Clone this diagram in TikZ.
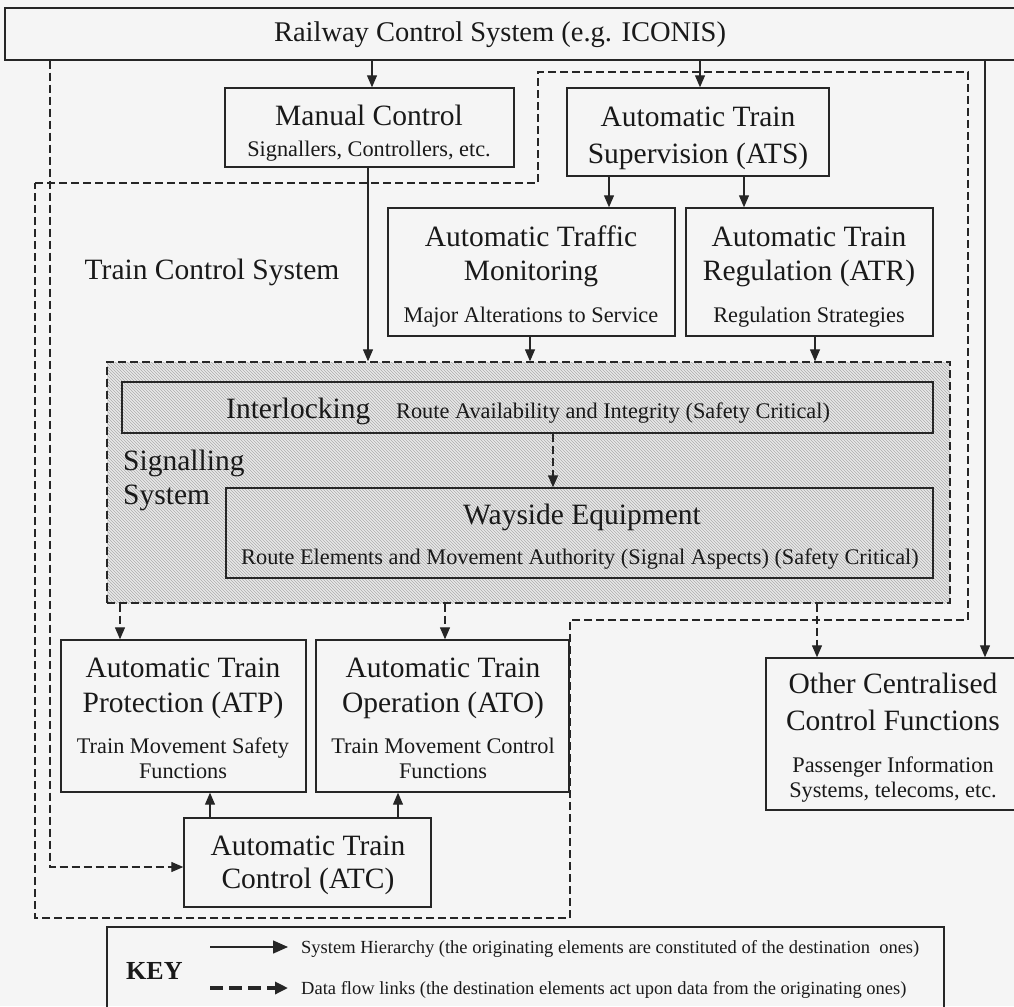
\documentclass[tikz,border=0pt]{standalone}
\usepackage{fontspec}
\setmainfont{Liberation Serif}
\usetikzlibrary{arrows.meta,patterns}
\begin{document}
\begin{tikzpicture}[x=1pt,y=-1pt,
  box/.style={draw=black!85, line width=1.4pt, inner sep=0pt, rectangle},
  big/.style={font=\fontsize{29.5}{34}\selectfont, inner sep=0pt, anchor=base, text=black!90},
  small/.style={font=\fontsize{22.3}{26}\selectfont, inner sep=0pt, anchor=base, text=black!90},
  keytxt/.style={font=\fontsize{18.5}{22}\selectfont, inner sep=0pt, anchor=base west, text=black!90},
  hier/.style={draw=black!85, line width=1.2pt, -{Triangle[length=12pt,width=10pt]}},
  flow/.style={draw=black!85, line width=1.3pt, dash pattern=on 8pt off 4pt, -{Triangle[length=12pt,width=10pt]}},
  bound/.style={draw=black!85, line width=1.3pt, dash pattern=on 8pt off 4pt},
]
\clip (0,0) rectangle (1014,1006);
\fill[black!4] (0,0) rectangle (1014,1006);

% Train Control System boundary
\draw[bound] (35,183) -- (538,183) -- (538,72) -- (968,72) -- (968,620) -- (570,620) -- (570,918) -- (35,918) -- cycle;

% Signalling region
\node[box, dash pattern=on 8pt off 4pt, line width=1.3pt,
  preaction={fill=black!9}, preaction={pattern=north west lines, pattern color=black!32},
  minimum width=843pt, minimum height=241pt] (sig) at (528.5,482.5) {};

% boxes
\node[box, minimum width=1015pt, minimum height=52pt] (rail) at (512.5,34) {};
\node[box, minimum width=289pt, minimum height=79pt] (manual) at (369.5,127.5) {};
\node[box, minimum width=262pt, minimum height=88pt] (ats) at (698,132) {};
\node[box, minimum width=287pt, minimum height=128pt] (atm) at (531.5,272) {};
\node[box, minimum width=247pt, minimum height=128pt] (atr) at (809.5,272) {};
\node[box, minimum width=811pt, minimum height=51pt] (il) at (527.5,407.5) {};
\node[box, minimum width=707pt, minimum height=90pt] (way) at (579.5,533) {};
\node[box, minimum width=245pt, minimum height=152pt] (atp) at (183.5,716) {};
\node[box, minimum width=253pt, minimum height=152pt] (ato) at (442.5,716) {};
\node[box, minimum width=254pt, minimum height=152pt] (other) at (893,734) {};
\node[box, minimum width=247pt, minimum height=89pt] (atc) at (307.5,862.5) {};
\node[box, minimum width=837pt, minimum height=100pt] (key) at (525.5,977) {};

% texts
\node[big, font=\fontsize{28.5}{34}\selectfont] (trail) at (500,42) {Railway Control System (e.g. ICONIS)};
\node[big] (tman1) at (369,126) {Manual Control};
\node[small] (tman2) at (369,156) {Signallers, Controllers, etc.};
\node[big] (tats1) at (698,127) {Automatic Train};
\node[big] (tats2) at (698,163) {Supervision (ATS)};
\node[big] (tatm1) at (531,246) {Automatic Traffic};
\node[big] (tatm2) at (531,280) {Monitoring};
\node[small] (tatm3) at (531,322) {Major Alterations to Service};
\node[big] (tatr1) at (809,246) {Automatic Train};
\node[big] (tatr2) at (809,280) {Regulation (ATR)};
\node[small] (tatr3) at (809,322) {Regulation Strategies};
\node[big] (ttcs) at (212,279) {Train Control System};
\node[big, anchor=base west] (til1) at (226,418) {Interlocking};
\node[small, anchor=base west] (til2) at (396,418) {Route Availability and Integrity (Safety Critical)};
\node[big, anchor=base west] (tsig1) at (123,470) {Signalling};
\node[big, anchor=base west] (tsig2) at (123,504) {System};
\node[big] (tway1) at (582,524) {Wayside Equipment};
\node[small] (tway2) at (580,564) {Route Elements and Movement Authority (Signal Aspects) (Safety Critical)};
\node[big] (tatp1) at (183,677) {Automatic Train};
\node[big] (tatp2) at (183,712) {Protection (ATP)};
\node[small] (tatp3) at (183,753) {Train Movement Safety};
\node[small] (tatp4) at (183,778) {Functions};
\node[big] (tato1) at (443,677) {Automatic Train};
\node[big] (tato2) at (443,712) {Operation (ATO)};
\node[small] (tato3) at (443,753) {Train Movement Control};
\node[small] (tato4) at (443,778) {Functions};
\node[big] (toth1) at (893,693) {Other Centralised};
\node[big] (toth2) at (893,730) {Control Functions};
\node[small] (toth3) at (893,772) {Passenger Information};
\node[small] (toth4) at (893,797) {Systems, telecoms, etc.};
\node[big] (tatc1) at (308,855) {Automatic Train};
\node[big] (tatc2) at (308,888) {Control (ATC)};
\node[font=\fontsize{26}{30}\selectfont\bfseries, inner sep=0pt, anchor=base west, text=black!90] (tkey) at (126,979) {KEY};
\node[keytxt] (tk1) at (301,953) {System Hierarchy (the originating elements are constituted of the destination~ ones)};
\node[keytxt] (tk2) at (301,994) {Data flow links (the destination elements act upon data from the originating ones)};

% x positions for connectors
\coordinate (x372) at (372,0);
\coordinate (x700) at (700,0);
\coordinate (x609) at (609,0);
\coordinate (x744) at (744,0);
\coordinate (x368) at (368,0);
\coordinate (x530) at (530,0);
\coordinate (x815) at (815,0);
\coordinate (x985) at (985,0);
\coordinate (x210) at (210,0);
\coordinate (x398) at (398,0);
\coordinate (x553) at (553,0);
\coordinate (x120) at (120,0);
\coordinate (x445) at (445,0);
\coordinate (x817) at (817,0);
\coordinate (dcorner) at (50,867);

% hierarchy connectors
\draw[hier] (rail.south -| x372) -- (manual.north -| x372);
\draw[hier] (rail.south -| x700) -- (ats.north -| x700);
\draw[hier] (ats.south -| x609) -- (atm.north -| x609);
\draw[hier] (ats.south -| x744) -- (atr.north -| x744);
\draw[hier] (manual.south -| x368) -- (sig.north -| x368);
\draw[hier] (atm.south -| x530) -- (sig.north -| x530);
\draw[hier] (atr.south -| x815) -- (sig.north -| x815);
\draw[hier] (rail.south -| x985) -- (other.north -| x985);
\draw[hier] (atc.north -| x210) -- (atp.south -| x210);
\draw[hier] (atc.north -| x398) -- (ato.south -| x398);

% data flow connectors
\draw[flow] (il.south -| x553) -- (way.north -| x553);
\draw[flow] (sig.south -| x120) -- (atp.north -| x120);
\draw[flow] (sig.south -| x445) -- (ato.north -| x445);
\draw[flow] (sig.south -| x817) -- (other.north -| x817);
\draw[flow] (rail.south -| dcorner) -- (dcorner) -- (dcorner -| atc.west);

% key arrows
\coordinate (k1a) at (210,947);
\coordinate (k1b) at (288,947);
\coordinate (k2a) at (210,988);
\coordinate (k2b) at (288,988);
\draw[draw=black!85, line width=1.5pt, -{Triangle[length=15pt,width=13pt]}] (k1a) -- (k1b);
\draw[draw=black!85, line width=3.2pt, dash pattern=on 13pt off 6pt, -{Triangle[length=13pt,width=12pt]}] (k2a) -- (k2b);
\end{tikzpicture}
\end{document}
